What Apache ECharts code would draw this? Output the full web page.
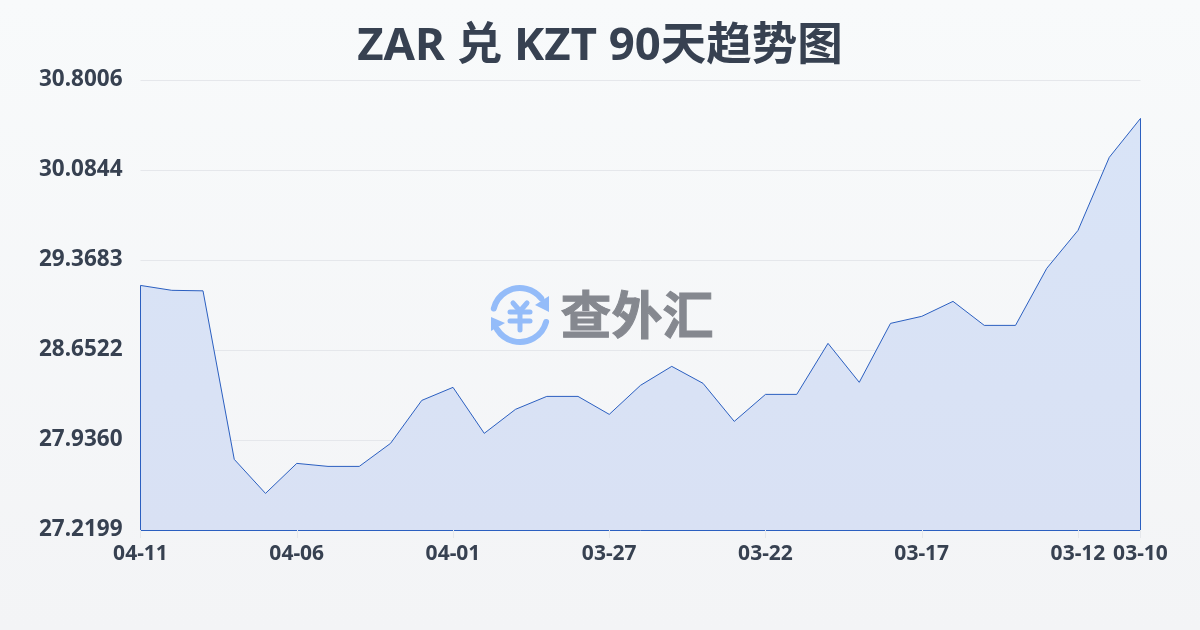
<!DOCTYPE html>
<html><head><meta charset="utf-8">
<style>html,body{margin:0;padding:0}#c{width:1200px;height:630px}</style>
<script src="https://cdn.jsdelivr.net/npm/echarts@6/dist/echarts.min.js"></script>
</head><body><div id="c"></div>
<script>
const titleText = 'ZAR 兑 KZT 90天趋势图';
const watermarkText = '查外汇';
const dates = ['04-11','04-10','04-09','04-08','04-07','04-06','04-05','04-04','04-03','04-02','04-01','03-31','03-30','03-29','03-28','03-27','03-26','03-25','03-24','03-23','03-22','03-21','03-20','03-19','03-18','03-17','03-16','03-15','03-14','03-13','03-12','03-11','03-10'];
const rates = [29.166,29.127,29.123,27.782,27.511,27.750,27.726,27.726,27.909,28.251,28.355,27.989,28.180,28.283,28.283,28.140,28.371,28.522,28.387,28.084,28.299,28.299,28.705,28.395,28.864,28.920,29.039,28.848,28.848,29.302,29.604,30.185,30.495];
const yTicks = [27.2199,27.9360,28.6522,29.3683,30.0844,30.8006];
const xLabelIdx = [0,5,10,15,20,25,30,32];

const font = '"Noto Sans","Noto Sans CJK SC",sans-serif';
const textColor = '#374151';
const lineColor = '#2b5fc0';
const logoBlue = '#94bcf9';
const last = dates[dates.length-1], first = dates[0], yMin = yTicks[0];
const chart = echarts.init(document.getElementById('c'), null, {renderer:'canvas'});
const logoLine = (x1,y1,x2,y2)=>({type:'line',silent:true,z:1,shape:{x1,y1,x2,y2},style:{stroke:logoBlue,lineWidth:5,lineCap:'round'}});
const logoArc = (a,b)=>({type:'arc',silent:true,z:1,shape:{cx:520,cy:315,r:27,startAngle:a*Math.PI/180,endAngle:b*Math.PI/180,clockwise:true},style:{stroke:logoBlue,fill:null,lineWidth:6,lineCap:'round'}});
const logoTri = pts=>({type:'polygon',silent:true,z:1,shape:{points:pts},style:{fill:logoBlue}});
chart.setOption({
  animation:false,
  backgroundColor:{type:'linear',x:0,y:0,x2:0,y2:1,colorStops:[{offset:0,color:'#f8fafb'},{offset:1,color:'#f3f4f6'}]},
  title:{text:titleText,left:'center',top:19,textStyle:{fontFamily:font,fontSize:45.5,fontWeight:'bold',color:textColor}},
  grid:{left:140.5,right:59.5,top:80,bottom:100,containLabel:false},
  xAxis:{type:'category',boundaryGap:false,data:dates,
    axisLine:{show:true,lineStyle:{color:lineColor,width:1}},
    axisTick:{show:true,length:8,lineStyle:{color:'#e5e7eb'},interval:i=>xLabelIdx.includes(i)},
    axisLabel:{interval:i=>xLabelIdx.includes(i),hideOverlap:false,margin:14,fontFamily:font,fontSize:21,fontWeight:'bold',color:textColor},
    splitLine:{show:false}},
  yAxis:{type:'value',min:yTicks[0],max:yTicks[yTicks.length-1],
    axisLine:{show:false},axisTick:{show:false,customValues:yTicks},
    axisLabel:{customValues:yTicks,margin:18,padding:[2,0,0,0],fontFamily:font,fontSize:22.5,fontWeight:'bold',color:textColor,formatter:v=>v.toFixed(4)},
    splitLine:{show:true,lineStyle:{color:'#e5e7eb',width:1}}},
  series:[{type:'line',data:rates,symbol:'none',smooth:false,z:3,
    lineStyle:{color:lineColor,width:1},
    areaStyle:{color:{type:'linear',x:0,y:0,x2:0,y2:1,colorStops:[{offset:0,color:'#d9e4f7'},{offset:1,color:'#d9e1f4'}]},opacity:1},
    markLine:{silent:true,symbol:'none',label:{show:false},animation:false,lineStyle:{color:lineColor,width:1,type:'solid'},
      data:[
        [{coord:[first,yMin]},{coord:[first,rates[0]]}],
        [{coord:[last,yMin]},{coord:[last,rates[rates.length-1]]}]
      ]}
  }],
  graphic:[
    logoArc(194,322),logoArc(15,148),
    logoTri([[549,296],[549,312],[535,305]]),
    logoTri([[491,317],[491,331],[505,323]]),
    logoLine(513,303,520,311),logoLine(527,303,520,311),
    logoLine(510,312,530,312),logoLine(510,321,530,321),logoLine(520,311,520,330),
    {type:'text',silent:true,z:1,left:560,top:289,style:{text:watermarkText,fontFamily:'"Noto Sans CJK SC",sans-serif',fontSize:51,fontWeight:'bold',fill:'#85888f',stroke:'#85888f',lineWidth:1}}
  ]
});
</script></body></html>
